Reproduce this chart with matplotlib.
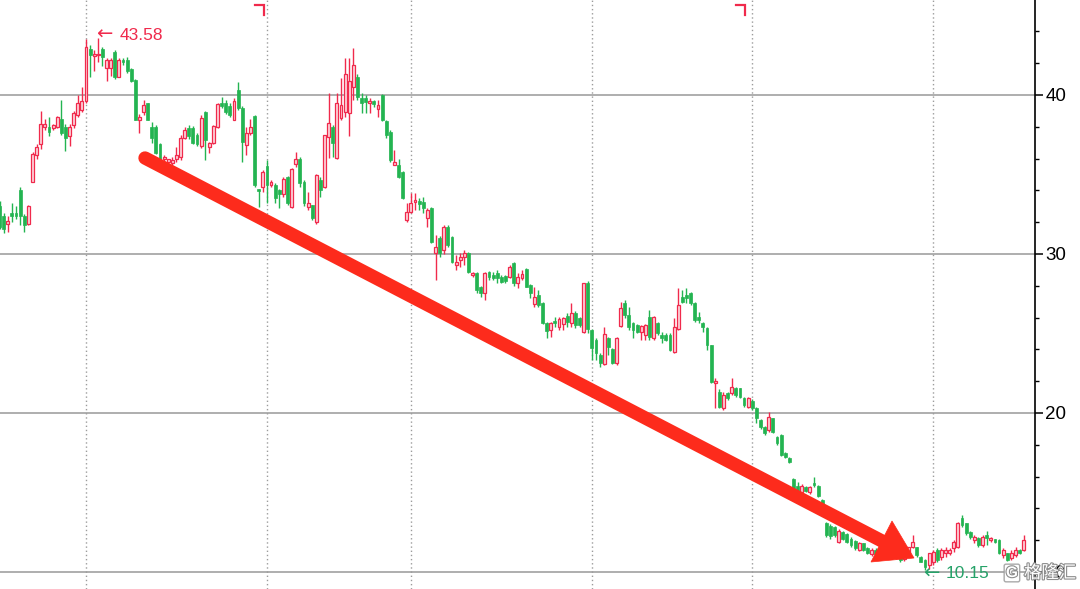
import matplotlib
matplotlib.use('Agg')
import matplotlib.pyplot as plt
import matplotlib.patheffects as pe
from matplotlib.lines import Line2D
from matplotlib.patches import Polygon
from matplotlib.ticker import MultipleLocator
import matplotlib.transforms as mtransforms
import numpy as np

plt.rcParams['font.family'] = ['Liberation Sans', 'DejaVu Sans']

# daily OHLC left to right
opens = [33.0, 32.4, 31.9, 32.6, 32.6, 34.0, 32.4, 31.9, 34.55, 36.2,
         36.9, 38.0, 38.0, 37.95, 38.0, 38.5, 38.0, 37.4, 38.1, 38.75,
         39.05, 39.6, 42.9, 42.45, 42.5, 42.9, 41.7, 41.7, 42.7, 41.15,
         42.2, 42.2, 41.6, 40.95, 38.45, 38.95, 39.5, 38.0, 38.0, 36.9,
         36.0, 35.8, 35.7, 35.95, 36.1, 37.3, 37.95, 37.9, 37.5, 36.8,
         38.95, 36.7, 36.96, 38.0, 39.5, 39.5, 39.3, 38.43, 40.3, 39.16,
         36.86, 37.63, 38.68, 34.1, 34.24, 35.5, 34.34, 34.34, 34.03, 33.78,
         34.86, 32.98, 35.66, 36.0, 34.55, 32.98, 33.08, 32.03, 34.65, 34.24,
         37.38, 37.96, 36.02, 38.53, 38.9, 38.85, 40.5, 41.15, 39.79, 39.8,
         39.5, 39.6, 39.1, 40.0, 38.33, 37.7, 35.6, 35.59, 35.17, 32.14,
         32.66, 33.29, 33.35, 33.25, 32.25, 32.87, 30.04, 30.98, 30.25, 31.72,
         31.09, 29.3, 29.62, 29.83, 30.04, 28.68, 28.78, 27.94, 27.52, 28.88,
         28.68, 28.83, 28.57, 28.6, 28.57, 29.45, 28.16, 28.47, 29.03, 28.05,
         26.85, 27.42, 26.94, 25.68, 25.22, 25.8, 25.43, 25.6, 26.1, 25.64,
         26.31, 25.95, 25.12, 28.2, 25.22, 24.59, 23.65, 23.08, 24.7, 24.0,
         23.12, 25.47, 26.9, 26.17, 25.64, 25.55, 25.12, 24.9, 26.06, 24.7,
         25.64, 24.91, 24.9, 24.9, 23.86, 25.3, 27.32, 27.4, 27.53, 26.9,
         26.06, 25.64, 25.33, 24.28, 21.87, 21.34, 20.3, 21.24, 21.24, 21.55,
         21.55, 20.92, 20.4, 20.78, 20.3, 19.56, 19.14, 18.93, 19.66, 18.51,
         18.6, 17.5, 17.15, 15.85, 15.43, 15.01, 15.33, 15.01, 15.6, 15.43,
         14.5, 13.1, 12.9, 12.8, 11.9, 12.5, 12.4, 12.1, 11.95, 11.4,
         11.8, 11.5, 11.1, 11.4, 11.2, 11.0, 11.3, 11.2, 10.9, 11.0,
         10.8, 11.2, 11.55, 11.59, 10.96, 10.75, 10.44, 10.65, 11.38, 10.96,
         11.17, 11.22, 11.49, 11.59, 13.38, 13.06, 12.54, 12.01, 12.12, 11.7,
         12.3, 12.0, 12.05, 12.01, 11.07, 11.17, 10.86, 11.07, 11.38, 11.4]

highs = [33.3, 32.6, 32.4, 33.2, 33.0, 34.2, 32.5, 33.1, 36.4, 36.9,
         39.0, 38.5, 38.6, 38.2, 38.7, 39.7, 38.2, 38.2, 39.0, 40.0,
         40.5, 43.5, 43.15, 42.8, 43.58, 43.0, 42.3, 42.3, 42.8, 42.3,
         42.3, 42.4, 41.7, 41.0, 38.8, 39.7, 39.5, 38.3, 38.1, 37.0,
         36.2, 36.0, 36.1, 36.75, 37.5, 38.0, 38.1, 38.05, 37.6, 38.75,
         39.0, 37.05, 38.1, 39.5, 39.85, 39.7, 39.5, 39.8, 40.8, 39.3,
         38.0, 38.5, 38.74, 34.1, 35.28, 35.9, 34.65, 34.45, 34.1, 34.82,
         34.9, 35.4, 36.43, 36.1, 34.65, 33.9, 33.1, 35.0, 34.86, 37.5,
         40.1, 38.1, 40.1, 41.05, 42.3, 42.3, 42.94, 41.3, 40.1, 40.0,
         39.8, 39.7, 39.68, 40.05, 38.4, 37.8, 36.54, 36.0, 35.2, 33.19,
         33.82, 33.82, 33.5, 33.61, 32.87, 32.98, 31.2, 31.1, 31.8, 31.8,
         31.1, 29.93, 30.04, 30.25, 30.1, 28.88, 28.88, 28.0, 28.88, 28.95,
         28.88, 29.0, 28.68, 28.7, 29.31, 29.5, 28.78, 28.99, 29.1, 28.1,
         27.95, 27.74, 27.0, 25.7, 25.74, 26.06, 26.06, 26.06, 26.27, 26.9,
         26.4, 26.06, 28.2, 28.3, 25.3, 24.7, 23.75, 25.43, 24.8, 24.1,
         24.8, 27.0, 27.11, 26.69, 25.7, 25.6, 25.55, 25.6, 26.48, 26.1,
         25.7, 25.12, 25.0, 25.0, 25.95, 27.84, 27.74, 27.84, 27.6, 26.95,
         26.37, 25.7, 25.4, 24.3, 22.18, 21.5, 21.34, 21.3, 22.18, 21.66,
         21.6, 21.0, 21.0, 20.9, 20.35, 19.6, 19.2, 20.08, 19.7, 18.55,
         18.65, 17.55, 17.2, 15.9, 15.64, 15.54, 15.4, 15.4, 15.95, 15.5,
         14.6, 13.15, 13.0, 12.9, 12.7, 12.6, 12.45, 12.2, 12.0, 11.9,
         11.85, 11.6, 11.5, 11.5, 11.3, 11.4, 11.4, 11.3, 11.2, 11.05,
         11.3, 11.6, 12.3, 11.6, 11.0, 10.8, 11.2, 11.38, 11.48, 11.48,
         11.59, 11.48, 12.01, 13.17, 13.59, 13.1, 12.6, 12.33, 12.2, 12.3,
         12.6, 12.2, 12.1, 12.05, 11.48, 11.2, 11.38, 11.59, 11.45, 12.3]

lows = [31.6, 31.3, 31.4, 32.0, 32.2, 31.8, 31.4, 31.8, 34.5, 36.0,
        36.6, 37.8, 37.4, 37.8, 37.9, 37.5, 36.5, 36.8, 37.9, 38.6,
        38.95, 39.5, 41.15, 41.5, 42.1, 41.8, 40.9, 41.2, 41.0, 41.1,
        41.9, 41.4, 40.8, 38.4, 37.6, 38.75, 38.4, 37.0, 36.3, 35.8,
        35.8, 35.6, 35.5, 35.8, 35.9, 37.2, 37.2, 36.9, 36.8, 36.65,
        35.9, 36.33, 36.9, 37.9, 39.15, 38.8, 38.6, 38.4, 39.05, 35.8,
        36.2, 37.5, 34.24, 32.98, 33.9, 33.2, 34.24, 33.2, 32.88, 33.6,
        33.1, 32.9, 35.49, 34.24, 33.0, 32.77, 32.14, 31.9, 33.61, 34.13,
        36.02, 36.12, 35.95, 38.43, 38.6, 37.4, 39.7, 39.7, 38.85, 38.85,
        38.85, 39.27, 38.64, 38.33, 37.27, 35.8, 35.59, 34.76, 33.45, 32.03,
        32.56, 32.77, 32.77, 32.56, 31.72, 30.67, 28.36, 29.8, 30.0, 30.46,
        29.41, 28.99, 29.2, 29.31, 28.78, 28.57, 27.52, 27.31, 27.11, 28.36,
        28.36, 28.15, 28.15, 28.2, 28.47, 28.0, 27.84, 28.37, 27.9, 27.2,
        26.69, 26.69, 25.6, 24.7, 24.8, 25.43, 25.22, 25.22, 25.43, 25.43,
        25.33, 25.4, 25.05, 25.0, 23.33, 23.33, 22.91, 23.0, 23.65, 23.05,
        23.0, 25.43, 25.95, 25.22, 24.7, 25.0, 24.59, 24.59, 24.59, 24.59,
        24.9, 24.38, 24.5, 23.9, 23.75, 25.2, 26.9, 26.9, 26.8, 25.7,
        25.64, 25.12, 23.96, 21.9, 20.3, 20.3, 20.19, 20.8, 21.13, 21.03,
        20.92, 20.4, 20.3, 20.2, 19.35, 19.0, 18.6, 18.82, 18.75, 18.0,
        17.3, 17.15, 16.85, 15.15, 15.0, 14.9, 15.0, 14.9, 15.33, 14.7,
        13.5, 12.2, 12.1, 12.2, 11.8, 12.0, 11.8, 11.6, 11.4, 11.35,
        11.3, 11.1, 11.0, 11.0, 10.9, 10.9, 11.0, 10.8, 10.8, 10.65,
        10.7, 11.1, 11.5, 10.96, 10.6, 10.15, 10.2, 10.44, 10.65, 10.75,
        10.96, 11.07, 11.27, 11.49, 12.85, 12.3, 12.1, 11.8, 11.6, 11.6,
        11.7, 11.9, 11.8, 11.1, 10.86, 10.7, 10.75, 10.96, 11.1, 11.3]

closes = [31.7, 31.6, 32.1, 32.4, 32.4, 32.4, 31.8, 33.0, 36.3, 36.75,
          38.2, 38.2, 37.7, 38.1, 38.6, 37.6, 37.3, 38.0, 38.85, 39.5,
          39.6, 43.0, 42.5, 42.55, 42.55, 42.4, 42.2, 42.2, 41.15, 42.2,
          42.1, 41.5, 40.85, 38.4, 38.6, 39.37, 38.45, 37.3, 36.33, 36.0,
          36.1, 35.95, 35.9, 36.2, 37.3, 37.8, 37.4, 36.95, 36.9, 38.55,
          37.17, 36.95, 38.05, 39.4, 39.3, 38.9, 38.75, 39.6, 39.16, 37.07,
          37.6, 38.0, 34.34, 33.98, 35.18, 34.34, 34.5, 33.5, 33.78, 34.7,
          33.19, 35.32, 35.95, 34.45, 33.19, 33.19, 32.25, 34.97, 34.03, 37.48,
          38.22, 36.96, 39.48, 39.37, 41.3, 40.9, 41.9, 39.9, 39.47, 39.58,
          39.6, 39.45, 39.37, 38.43, 37.48, 35.91, 35.8, 34.86, 33.5, 32.66,
          33.19, 33.4, 33.15, 32.87, 32.77, 30.78, 30.46, 30.04, 31.72, 30.56,
          29.52, 29.5, 29.83, 30.04, 28.88, 28.83, 27.73, 27.52, 28.78, 28.57,
          28.47, 28.47, 28.26, 28.3, 29.2, 28.15, 28.58, 28.74, 27.95, 27.53,
          27.28, 26.8, 25.64, 25.18, 25.64, 25.64, 25.89, 25.95, 25.75, 26.27,
          25.54, 25.54, 28.16, 25.3, 24.07, 23.75, 23.12, 24.97, 24.13, 23.12,
          24.69, 26.58, 26.17, 25.43, 25.22, 25.12, 25.47, 25.53, 24.8, 26.02,
          25.01, 24.7, 24.6, 23.96, 25.43, 26.8, 27.0, 27.2, 26.9, 25.85,
          25.85, 25.43, 24.28, 21.97, 22.03, 20.4, 21.13, 20.92, 21.66, 21.13,
          21.03, 20.5, 20.92, 20.3, 19.66, 19.14, 18.72, 19.77, 18.82, 18.09,
          17.36, 17.25, 16.94, 15.22, 15.1, 15.43, 15.12, 15.33, 15.45, 14.8,
          13.6, 12.3, 12.25, 12.3, 12.6, 12.1, 11.9, 11.7, 11.5, 11.8,
          11.4, 11.2, 11.4, 11.1, 11.0, 11.3, 11.1, 10.9, 11.1, 10.75,
          11.2, 11.55, 11.9, 11.07, 10.65, 10.33, 11.17, 11.27, 10.75, 11.38,
          11.38, 11.38, 11.9, 13.06, 12.96, 12.43, 12.22, 12.22, 11.7, 12.22,
          12.15, 12.12, 11.9, 11.17, 11.38, 10.75, 11.17, 11.38, 11.17, 12.0]

y_ticks = [10, 20, 30, 40]
period_lines = [21, 65, 100, 144, 183, 227]   # bar index of the dotted separators
event_bars = [64.3, 181.2]                     # little red corner flags at the top
peak_bar, peak_price = 24, 43.58
low_bar, low_price = 225, 10.15

RED = '#f02a4c'
RED_FILL = '#fdd5dc'
GREEN = '#23b451'
LOW_GREEN = '#26a269'
ARROW = '#fd2b1c'

W, H = 1080, 589
fig = plt.figure(figsize=(W / 100, H / 100), dpi=100)
ax = fig.add_axes([0, 0, 1035 / W, 1])

o = np.array(opens)
h = np.array(highs)
l = np.array(lows)
c = np.array(closes)
x = np.arange(len(o))
up = c >= o

ax.vlines(x, l, h, colors=np.where(up, RED, GREEN), linewidth=1.0, zorder=3)
body_lo = np.minimum(o, c)
body_h = np.maximum(np.abs(c - o), 0.07)
ax.bar(x[up], body_h[up], bottom=body_lo[up], width=0.7,
       facecolor=RED_FILL, edgecolor=RED, linewidth=0.9, zorder=4)
ax.bar(x[~up], body_h[~up], bottom=body_lo[~up], width=0.7,
       facecolor=GREEN, edgecolor=GREEN, linewidth=0.5, zorder=4)

# 4.113 px per bar, first bar sits on the left edge
px_bar, first_px = 4.113, -0.4
ax.set_xlim(-first_px / px_bar, (1035 - first_px) / px_bar)
ax.set_ylim(8.93, 45.97)

ax.vlines(period_lines, 8.93, 45.97, colors='#9c9c9c', linewidth=1.0,
          linestyles=(0, (1, 2)), zorder=1)
ax.set_yticks(y_ticks)
ax.yaxis.set_minor_locator(MultipleLocator(2))
ax.grid(axis='y', which='major', color='#a8a8a8', linewidth=1.3, zorder=1)
ax.set_axisbelow(True)
ax.yaxis.tick_right()
ax.tick_params(axis='y', which='major', direction='out', length=5.5, width=1.1,
               labelsize=13.5, pad=2, colors='black')
ax.tick_params(axis='y', which='minor', direction='out', length=3, width=1.0)
ax.set_xticks([])
for side in ['left', 'top', 'bottom']:
    ax.spines[side].set_visible(False)
ax.spines['right'].set_linewidth(1.2)
ax.spines['right'].set_color('black')

# red corner flags at the top
flag_tr = mtransforms.blended_transform_factory(ax.transData, ax.transAxes)
for eb in event_bars:
    ax.plot([eb - 2.2, eb, eb], [1 - 5 / H, 1 - 5 / H, 1 - 15 / H],
            color=RED, linewidth=1.6, transform=flag_tr, clip_on=False,
            solid_joinstyle='miter', zorder=5)

# high / low markers: a long thin arrow glyph followed by the price
for bar, price, col, dy in [(peak_bar, peak_price, RED, 2),
                            (low_bar, low_price, LOW_GREEN, -3)]:
    ax.annotate('←', xy=(bar, price), xytext=(-1.5, dy + 0.5),
                textcoords='offset points', color=col, fontsize=14,
                family='DejaVu Sans', va='center', ha='left', zorder=6)
    ax.annotate('%.2f' % price, xy=(bar, price), xytext=(15, dy),
                textcoords='offset points', color=col, fontsize=12.5,
                va='center', ha='left', zorder=6)

# big red trend arrow drawn on top (figure pixel coords, origin top-left)
def fp(px, py):
    return (px / W, 1 - py / H)

sx, sy = fp(145, 158)
ex, ey = fp(882, 541)
fig.add_artist(Line2D([sx, ex], [sy, ey], transform=fig.transFigure,
                      color=ARROW, linewidth=9.6, solid_capstyle='round'))
fig.add_artist(Polygon([fp(914, 558), fp(871, 562), fp(892, 521)], closed=True,
                       transform=fig.transFigure, facecolor=ARROW, edgecolor=ARROW,
                       linewidth=0.5))

# watermark
fig.text(1006 / W, 1 - 573 / H, 'G', fontsize=11, color='white', va='center',
         fontweight='bold',
         path_effects=[pe.withStroke(linewidth=1.6, foreground='#8c8c8c')],
         bbox=dict(boxstyle='round,pad=0.12', facecolor='white',
                   edgecolor='#9a9a9a', linewidth=1.0, alpha=0.85))
fig.text(1024 / W, 1 - 573 / H, '格隆汇', fontsize=12.5, color='white',
         va='center', family=['Noto Sans CJK SC', 'DejaVu Sans'],
         path_effects=[pe.withStroke(linewidth=1.6, foreground='#8c8c8c')])

fig.savefig('out.png', dpi=100, facecolor='white')
